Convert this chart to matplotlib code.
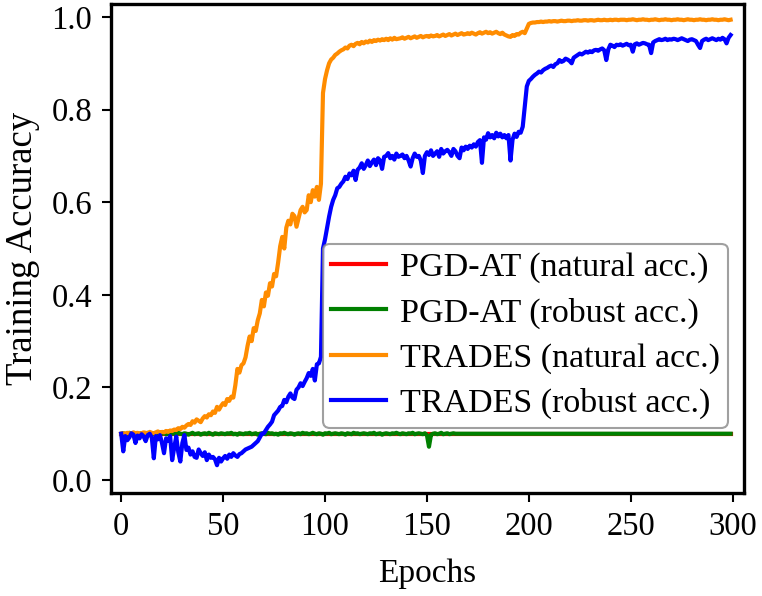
import numpy as np
import matplotlib
matplotlib.use('Agg')
import matplotlib.pyplot as plt

plt.rcParams['font.family'] = ['Liberation Serif', 'DejaVu Serif']
plt.rcParams['mathtext.fontset'] = 'stix'

labels = ['PGD-AT (natural acc.)', 'PGD-AT (robust acc.)',
          'TRADES (natural acc.)', 'TRADES (robust acc.)']
colors = ['red', 'green', 'darkorange', 'blue']

# PGD-AT collapsed to chance level, both curves sit at 0.1
pgd_nat = [0.100] * 300
pgd_rob = [
    0.100, 0.101, 0.099, 0.100, 0.102, 0.099, 0.100, 0.101, 0.098, 0.100,
    0.101, 0.100, 0.099, 0.102, 0.100, 0.098, 0.101, 0.100, 0.099, 0.101,
    0.100, 0.102, 0.099, 0.100, 0.098, 0.101, 0.100, 0.099, 0.102, 0.100,
    0.099, 0.101, 0.100, 0.098, 0.100, 0.102, 0.099, 0.100, 0.101, 0.098,
    0.100, 0.101, 0.099, 0.102, 0.100, 0.098, 0.101, 0.100, 0.099, 0.101,
    0.100, 0.099, 0.101, 0.100, 0.102, 0.099, 0.100, 0.098, 0.101, 0.100,
    0.099, 0.101, 0.100, 0.102, 0.099, 0.100, 0.101, 0.098, 0.100, 0.101,
    0.100, 0.099, 0.102, 0.100, 0.101, 0.099, 0.100, 0.098, 0.101, 0.100,
    0.102, 0.100, 0.099, 0.101, 0.100, 0.098, 0.100, 0.101, 0.099, 0.102,
    0.100, 0.101, 0.099, 0.100, 0.102, 0.100, 0.099, 0.101, 0.100, 0.098,
    0.101, 0.100, 0.102, 0.099, 0.100, 0.101, 0.100, 0.099, 0.101, 0.100,
    0.098, 0.101, 0.100, 0.099, 0.102, 0.100, 0.101, 0.099, 0.100, 0.101,
    0.100, 0.099, 0.101, 0.100, 0.102, 0.099, 0.100, 0.101, 0.098, 0.100,
    0.101, 0.100, 0.099, 0.101, 0.100, 0.102, 0.100, 0.099, 0.101, 0.100,
    0.099, 0.101, 0.100, 0.102, 0.099, 0.100, 0.101, 0.100, 0.099, 0.101,
    0.097, 0.072, 0.098, 0.100, 0.101, 0.099, 0.100, 0.102, 0.099, 0.100,
    0.101, 0.099, 0.100, 0.101, 0.100,
] + [0.100] * 135

trades_nat = [
    0.100, 0.101, 0.100, 0.102, 0.101, 0.100, 0.103, 0.101, 0.102, 0.100,
    0.101, 0.103, 0.102, 0.100, 0.104, 0.102, 0.101, 0.103, 0.105, 0.102,
    0.104, 0.103, 0.106, 0.104, 0.107, 0.106, 0.109, 0.108, 0.112, 0.110,
    0.115, 0.113, 0.118, 0.121, 0.119, 0.127, 0.124, 0.131, 0.128, 0.125,
    0.133, 0.138, 0.135, 0.142, 0.140, 0.148, 0.145, 0.158, 0.152, 0.160,
    0.166, 0.162, 0.175, 0.171, 0.180, 0.178, 0.205, 0.240, 0.232, 0.248,
    0.252, 0.265, 0.290, 0.310, 0.300, 0.328, 0.322, 0.345, 0.360, 0.389,
    0.375, 0.405, 0.398, 0.425, 0.418, 0.445, 0.440, 0.470, 0.505, 0.525,
    0.500, 0.545, 0.560, 0.552, 0.575, 0.570, 0.547, 0.565, 0.583, 0.590,
    0.578, 0.583, 0.615, 0.600, 0.626, 0.612, 0.633, 0.605, 0.640, 0.836,
    0.866, 0.885, 0.900, 0.908, 0.912, 0.918, 0.921, 0.925, 0.928, 0.930,
    0.934, 0.932, 0.938, 0.940, 0.937, 0.942, 0.944, 0.941, 0.946, 0.943,
    0.947, 0.945, 0.949, 0.946, 0.950, 0.948, 0.951, 0.949, 0.952, 0.950,
    0.953, 0.950, 0.954, 0.951, 0.955, 0.952, 0.953, 0.954, 0.956, 0.953,
    0.955, 0.957, 0.954, 0.956, 0.958, 0.955, 0.957, 0.959, 0.956, 0.958,
    0.959, 0.957, 0.960, 0.958, 0.959, 0.961, 0.958, 0.960, 0.962, 0.959,
    0.961, 0.963, 0.960, 0.962, 0.964, 0.961, 0.963, 0.965, 0.962, 0.963,
    0.965, 0.963, 0.966, 0.964, 0.962, 0.965, 0.967, 0.964, 0.966, 0.968,
    0.965, 0.967, 0.964, 0.966, 0.968, 0.965, 0.963, 0.966, 0.962, 0.960,
    0.958, 0.957, 0.961, 0.959, 0.963, 0.962, 0.966, 0.968, 0.965, 0.975,
    0.985, 0.987, 0.988, 0.988, 0.989, 0.989, 0.990, 0.989, 0.990, 0.990,
    0.991, 0.990, 0.991, 0.991, 0.990, 0.991, 0.992, 0.991, 0.991, 0.992,
    0.992, 0.991, 0.992, 0.992, 0.993, 0.992, 0.992, 0.993, 0.993, 0.992,
    0.993, 0.993, 0.992, 0.993, 0.994, 0.993, 0.993, 0.994, 0.993, 0.993,
    0.994, 0.993, 0.994, 0.994, 0.993, 0.994, 0.994, 0.994, 0.993, 0.994,
    0.994, 0.995, 0.994, 0.993, 0.994, 0.994, 0.995, 0.994, 0.994, 0.993,
    0.994, 0.994, 0.995, 0.994, 0.993, 0.994, 0.994, 0.995, 0.994, 0.994,
    0.993, 0.994, 0.994, 0.995, 0.994, 0.994, 0.993, 0.994, 0.995, 0.994,
    0.994, 0.993, 0.994, 0.994, 0.995, 0.994, 0.994, 0.993, 0.994, 0.994,
    0.995, 0.994, 0.994, 0.993, 0.994, 0.994, 0.995, 0.994, 0.993, 0.994,
]

trades_rob = [
    0.100, 0.062, 0.095, 0.086, 0.092, 0.101, 0.098, 0.080, 0.096, 0.090,
    0.099, 0.094, 0.084, 0.097, 0.100, 0.092, 0.047, 0.095, 0.088, 0.097,
    0.080, 0.058, 0.090, 0.085, 0.095, 0.043, 0.070, 0.094, 0.060, 0.040,
    0.080, 0.097, 0.065, 0.070, 0.055, 0.062, 0.050, 0.048, 0.066, 0.058,
    0.052, 0.060, 0.043, 0.055, 0.048, 0.050, 0.045, 0.032, 0.048, 0.040,
    0.047, 0.052, 0.046, 0.055, 0.050, 0.058, 0.053, 0.050, 0.056, 0.058,
    0.062, 0.066, 0.068, 0.070, 0.072, 0.076, 0.080, 0.084, 0.092, 0.100,
    0.101, 0.108, 0.115, 0.120, 0.126, 0.140, 0.145, 0.150, 0.158, 0.160,
    0.173, 0.168, 0.180, 0.187, 0.178, 0.175, 0.195, 0.200, 0.209, 0.203,
    0.212, 0.220, 0.231, 0.225, 0.240, 0.215, 0.250, 0.252, 0.266, 0.500,
    0.520, 0.545, 0.569, 0.590, 0.605, 0.615, 0.630, 0.633, 0.640, 0.645,
    0.655, 0.650, 0.662, 0.658, 0.668, 0.648, 0.670, 0.675, 0.684, 0.672,
    0.680, 0.690, 0.678, 0.686, 0.692, 0.680, 0.695, 0.690, 0.672, 0.698,
    0.700, 0.706, 0.695, 0.700, 0.692, 0.705, 0.698, 0.700, 0.703, 0.695,
    0.700, 0.690, 0.677, 0.695, 0.705, 0.698, 0.700, 0.690, 0.663, 0.700,
    0.708, 0.702, 0.712, 0.700, 0.705, 0.710, 0.698, 0.715, 0.705, 0.710,
    0.713, 0.708, 0.700, 0.715, 0.710, 0.700, 0.695, 0.718, 0.712, 0.720,
    0.715, 0.722, 0.718, 0.725, 0.720, 0.730, 0.734, 0.685, 0.740, 0.735,
    0.749, 0.740, 0.745, 0.738, 0.750, 0.742, 0.748, 0.740, 0.745, 0.738,
    0.745, 0.690, 0.735, 0.748, 0.741, 0.752, 0.750, 0.763, 0.806, 0.850,
    0.862, 0.866, 0.871, 0.875, 0.878, 0.882, 0.880, 0.885, 0.888, 0.890,
    0.893, 0.895, 0.892, 0.898, 0.900, 0.907, 0.903, 0.905, 0.910, 0.908,
    0.905, 0.900, 0.912, 0.915, 0.918, 0.921, 0.919, 0.922, 0.925, 0.923,
    0.926, 0.924, 0.928, 0.929, 0.927, 0.930, 0.932, 0.928, 0.907, 0.930,
    0.940, 0.938, 0.935, 0.940, 0.939, 0.941, 0.938, 0.940, 0.942, 0.939,
    0.940, 0.925, 0.941, 0.943, 0.940, 0.942, 0.944, 0.943, 0.941, 0.940,
    0.922, 0.945, 0.948, 0.950, 0.952, 0.950, 0.951, 0.953, 0.950, 0.952,
    0.951, 0.953, 0.952, 0.950, 0.952, 0.954, 0.952, 0.950, 0.948, 0.951,
    0.952, 0.950, 0.948, 0.940, 0.933, 0.948, 0.951, 0.953, 0.950, 0.952,
    0.954, 0.952, 0.950, 0.953, 0.951, 0.955, 0.952, 0.943, 0.955, 0.961,
]

epochs = np.arange(len(trades_nat))
series = [pgd_nat, pgd_rob, trades_nat, trades_rob]

fig = plt.figure(figsize=(7.62, 5.96), dpi=100)
ax = fig.add_axes([0.1457, 0.1728, 0.8305, 0.8205])

for vals, c, lab in zip(series, colors, labels):
    ax.plot(epochs, vals, color=c, linewidth=3.0, label=lab)

ax.set_xlim(-5, 305.5)
ax.set_ylim(-0.028, 1.028)
ax.set_xticks([0, 50, 100, 150, 200, 250, 300])
ax.set_yticks([0.0, 0.2, 0.4, 0.6, 0.8, 1.0])
ax.yaxis.set_major_formatter(matplotlib.ticker.FormatStrFormatter('%.1f'))

fs = 23.5
ax.tick_params(labelsize=fs, width=1.5, length=6.5, pad=7, top=False, right=False)
for s in ax.spines.values():
    s.set_linewidth(2.4)

ax.set_xlabel('Epochs', fontsize=24, labelpad=12)
ax.set_ylabel('Training Accuracy', fontsize=26.5, labelpad=8)

leg = ax.legend(loc='lower right', bbox_to_anchor=(0.975, 0.133), borderaxespad=0,
                fontsize=24.5, handlelength=1.6, handletextpad=0.4, labelspacing=0.42,
                borderpad=0.25, fancybox=True, framealpha=0.8)
leg.get_frame().set_edgecolor('#888888')
leg.get_frame().set_linewidth(1.5)

fig.savefig('out.png', dpi=100)
